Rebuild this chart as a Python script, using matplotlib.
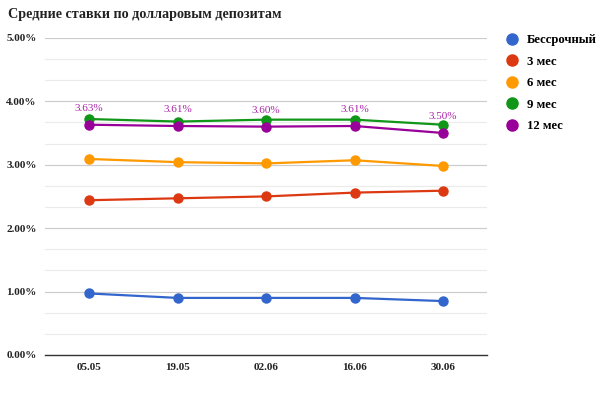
import matplotlib
matplotlib.use("Agg")
import matplotlib.pyplot as plt
import numpy as np

plt.rcParams['font.family'] = ['Liberation Serif', 'DejaVu Serif']

dates = ["05.05", "19.05", "02.06", "16.06", "30.06"]
series_names = ["Бессрочный", "3 мес", "6 мес", "9 мес", "12 мес"]
perpetual = [0.97, 0.90, 0.90, 0.90, 0.85]
m3 = [2.44, 2.47, 2.50, 2.56, 2.59]
m6 = [3.09, 3.04, 3.02, 3.07, 2.98]
m9 = [3.72, 3.68, 3.71, 3.71, 3.63]
m12 = [3.63, 3.61, 3.60, 3.61, 3.50]
colors = ["#3366cc", "#dc3912", "#ff9900", "#109618", "#990099"]
title = "Средние ставки по долларовым депозитам"

fig = plt.figure(figsize=(6, 3.94), dpi=100)
ax = fig.add_axes([0.075, 0.099, 0.737, 0.805])

x = np.arange(len(dates))
all_series = [perpetual, m3, m6, m9, m12]
for vals, name, c in zip(all_series, series_names, colors):
    ax.plot(x, vals, color=c, lw=1.6, marker='o', ms=6.5, label=name, zorder=3)

for xi, v in zip(x, m12):
    ax.annotate(f"{v:.2f}%", (xi, v), xytext=(0, 8.5), textcoords='offset points',
                ha='center', va='bottom', color="#aa22aa", fontsize=8)

ax.set_xlim(-0.5, 4.5)
ax.set_ylim(0, 5)
major = np.arange(0, 5.01, 1)
minor = np.arange(0, 5.01, 1/3)
for m in minor:
    ax.axhline(m, color="#ebebeb", lw=0.8, zorder=0)
for m in major[1:]:
    ax.axhline(m, color="#cccccc", lw=0.8, zorder=0)
ax.set_yticks(major)
ax.set_yticklabels([f"{v:.2f}%" for v in major], fontsize=8, fontweight='bold', color="#222222")
ax.set_xticks(x)
ax.set_xticklabels(dates, fontsize=8, fontweight='bold', color="#222222")
ax.tick_params(length=0, pad=6)
for s in ["top", "right", "left"]:
    ax.spines[s].set_visible(False)
ax.spines["bottom"].set_color("#333333")
ax.spines["bottom"].set_linewidth(1)

fig.text(0.013, 0.962, title, fontsize=10.2, fontweight='bold', color="#222222", va='center')

leg = ax.legend(loc='upper left', bbox_to_anchor=(1.018, 1.047), frameon=False,
                prop={'weight': 'bold', 'size': 9.2}, handlelength=0.8,
                handletextpad=0.8, labelspacing=0.74)
for h in leg.legend_handles:
    h.set_linestyle('none')
    h.set_markersize(8)

fig.savefig("out.png", dpi=100)
